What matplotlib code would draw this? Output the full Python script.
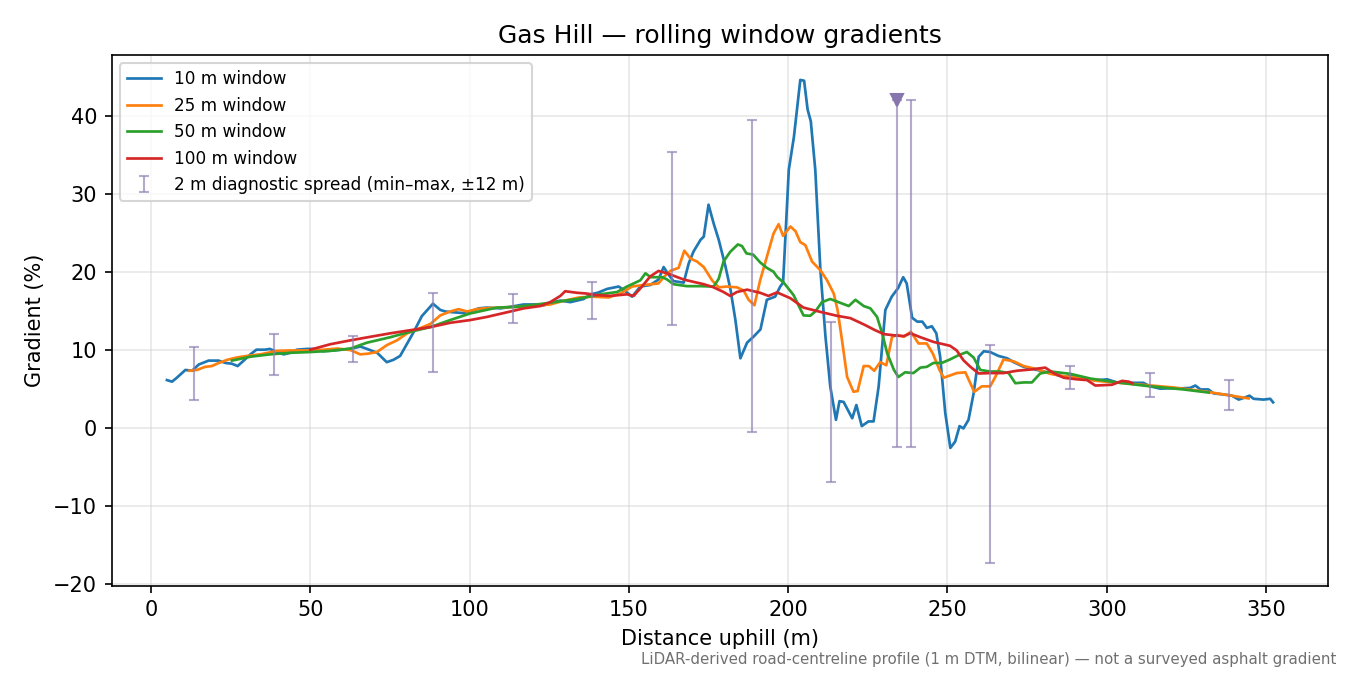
import matplotlib
matplotlib.use('Agg')
import matplotlib.pyplot as plt
import numpy as np

# ---- 10 m window ----
w10_x = [5.0, 6.6, 8.1, 10.8, 12.9, 15.0, 18.1, 21.2, 23.4, 25.4, 27.2, 29.1, 31.2, 33.1, 35.8,
         37.3, 39.0, 41.6, 43.7, 45.8, 49.0, 51.1, 54.0, 57.3, 62.6, 65.7, 67.8, 71.0, 74.0, 76.1,
         78.2, 80.4, 82.5, 85.0, 88.5, 90.8, 92.4, 94.9, 98.1, 100.1, 102.9, 105.4, 109.7, 112.9,
         116.9, 120.1, 123.3, 125.3, 128.5, 131.6, 133.7, 135.8, 137.9, 140.2, 143.2, 146.8, 148.9,
         151.0, 153.6, 156.7, 159.3, 160.9, 162.5, 164.0, 167.2, 168.8, 170.3, 172.5, 173.5, 175.0,
         176.6, 178.2, 180.3, 181.9, 183.4, 185.0, 187.1, 189.2, 191.3, 193.3, 195.9, 197.5, 198.4,
         200.2, 201.8, 203.8, 205.0, 206.1, 207.1, 208.5, 210.1, 211.7, 213.2, 215.0, 216.1, 217.4,
         220.1, 221.4, 223.1, 225.2, 226.8, 228.4, 230.5, 232.5, 234.5, 236.1, 237.2, 238.9, 240.5,
         242.1, 243.5, 245.1, 246.5, 247.7, 249.3, 250.9, 252.4, 253.8, 255.0, 256.6, 258.2, 259.8,
         261.4, 263.4, 266.0, 268.7, 270.8, 273.9, 278.1, 282.3, 286.5, 288.6, 292.7, 296.0, 299.0,
         300.1, 303.2, 308.5, 311.5, 313.6, 316.8, 319.9, 324.1, 326.2, 327.8, 329.4, 331.9, 333.5,
         337.7, 339.3, 341.4, 342.9, 344.8, 346.1, 349.2, 351.3, 352.2]
w10_y = [6.1, 5.9, 6.4, 7.4, 7.3, 8.1, 8.6, 8.6, 8.3, 8.2, 7.9, 8.6, 9.4, 10.0, 10.0,
         10.1, 9.8, 9.4, 9.6, 10.0, 10.1, 10.1, 9.8, 9.9, 10.1, 10.4, 10.1, 9.6, 8.4, 8.7,
         9.2, 10.8, 12.3, 14.3, 15.9, 15.1, 14.9, 14.8, 14.7, 14.9, 15.3, 15.4, 15.3, 15.5,
         15.8, 15.8, 15.7, 16.0, 16.3, 16.1, 16.3, 16.5, 17.1, 17.3, 17.8, 18.1, 17.5,
         16.8, 18.1, 18.3, 19.0, 20.6, 19.6, 18.8, 18.6, 21.1, 22.6, 24.1, 24.5, 28.6,
         26.2, 24.1, 20.7, 17.7, 13.9, 8.9, 10.9, 11.7, 12.6, 16.4, 16.8, 18.1, 18.6,
         33.1, 37.3, 44.6, 44.5, 40.8, 39.3, 33.1, 20.3, 11.7, 5.3, 1.0, 3.4, 3.3,
         1.2, 2.9, 0.2, 0.8, 0.8, 5.3, 15.1, 16.8, 17.9, 19.3, 18.5, 14.1, 13.6,
         13.6, 12.8, 13.0, 12.1, 9.1, 1.9, -2.6, -1.8, 0.2, -0.1, 1.0, 4.4, 9.1,
         9.8, 9.7, 9.2, 8.9, 8.4, 7.8, 7.4, 7.0, 6.5, 6.6, 6.4, 6.1, 6.15,
         6.2, 5.8, 5.75, 5.75, 5.3, 5.0, 5.05, 5.05, 5.1, 5.4, 4.9, 4.9, 4.4,
         4.2, 4.1, 3.6, 3.8, 4.1, 3.7, 3.6, 3.7, 3.25]

# ---- 25 m window ----
w25_x = [12.1, 14.4, 17.0, 19.1, 20.7, 23.9, 27.0, 30.1, 34.3, 39.5, 43.7, 49.0, 54.2, 58.4,
         62.6, 65.7, 68.3, 70.9, 74.1, 77.2, 80.4, 83.5, 87.7, 90.8, 93.9, 96.6, 99.2, 102.3,
         104.4, 109.0, 114.9, 120.0, 125.3, 128.8, 134.4, 138.6, 143.6, 147.3, 151.0, 154.6,
         159.3, 160.9, 163.0, 165.6, 167.4, 169.3, 171.4, 173.5, 176.1, 178.2, 180.8, 183.9,
         186.0, 187.6, 189.4, 191.2, 193.3, 195.4, 197.0, 198.4, 200.7, 202.3, 203.8, 205.4,
         207.5, 210.1, 212.2, 214.3, 215.5, 216.9, 218.5, 220.5, 221.8, 223.7, 225.3, 227.0,
         228.9, 230.8, 232.6, 234.2, 236.3, 238.5, 240.9, 243.5, 245.4, 247.5, 248.8, 252.9,
         255.6, 258.4, 260.8, 263.4, 265.0, 267.6, 270.8, 273.9, 278.1, 282.3, 286.5, 292.7,
         296.8, 308.4, 321.0, 331.4, 337.7, 344.5]
w25_y = [7.3, 7.4, 7.8, 7.9, 8.2, 8.7, 9.0, 9.2, 9.4, 9.85, 9.9, 9.9, 10.0, 10.15,
         9.95, 9.4, 9.5, 9.7, 10.6, 11.2, 12.1, 12.6, 13.3, 14.4, 14.9, 15.2, 14.9, 15.2,
         15.3, 15.4, 15.5, 15.6, 15.8, 16.2, 16.7, 16.8, 16.7, 17.2, 18.1, 18.3,
         18.5, 19.3, 20.1, 20.5, 22.7, 21.7, 21.3, 20.6, 18.9, 18.0, 18.1, 18.0,
         17.6, 16.4, 15.7, 18.9, 21.9, 24.9, 26.1, 24.6, 25.8, 25.2, 23.8, 23.4,
         21.3, 20.2, 18.9, 17.2, 15.1, 11.2, 6.5, 4.6, 4.7, 7.9, 7.9, 7.3,
         8.4, 8.0, 11.65, 11.9, 11.65, 12.3, 10.8, 10.8, 9.5, 7.4, 6.4, 7.0,
         7.1, 4.6, 5.3, 5.3, 6.5, 8.75, 8.5, 7.9, 7.5, 6.9, 6.6, 6.3,
         6.0, 5.6, 5.15, 4.6, 4.2, 3.75]

# ---- 50 m window ----
w50_x = [25.4, 31.2, 37.4, 43.7, 50.0, 56.3, 62.6, 67.8, 75.1, 81.4, 87.7, 93.9, 100.2, 108.6,
         114.9, 121.2, 127.5, 133.7, 141.0, 146.3, 149.4, 153.6, 155.2, 156.8, 160.5, 162.0,
         164.0, 168.2, 172.4, 176.6, 178.2, 179.7, 181.8, 184.2, 185.5, 186.9, 189.0, 191.2,
         193.3, 195.4, 196.5, 198.6, 201.7, 204.8, 206.9, 208.5, 210.6, 213.2, 215.8, 219.0,
         221.1, 223.7, 225.8, 227.9, 229.5, 231.1, 233.2, 234.6, 236.7, 239.3, 241.5, 243.5,
         245.6, 248.2, 250.8, 253.5, 256.1, 258.2, 260.3, 263.4, 266.5, 269.2, 271.3, 273.9,
         276.5, 279.1, 282.3, 288.6, 294.8, 303.2, 313.6, 324.1, 332.0]
w50_y = [8.6, 9.1, 9.4, 9.6, 9.7, 9.85, 10.15, 10.9, 11.6, 12.3, 12.9, 13.8, 14.65, 15.4,
         15.5, 15.8, 16.15, 16.5, 17.1, 17.4, 18.1, 18.9, 19.8, 19.3, 19.3, 19.0,
         18.4, 18.15, 18.15, 18.1, 19.1, 21.3, 22.55, 23.5, 23.3, 22.35, 22.2, 21.2,
         20.5, 20.0, 19.35, 18.6, 17.0, 14.4, 14.35, 14.9, 16.1, 16.5, 16.1, 15.6,
         16.4, 15.6, 15.3, 14.2, 12.1, 9.5, 7.4, 6.5, 7.1, 7.0, 7.7, 7.8,
         8.3, 8.3, 8.75, 9.3, 9.7, 9.0, 7.4, 7.2, 7.2, 7.0, 5.7, 5.8,
         5.8, 6.95, 7.2, 6.9, 6.3, 5.8, 5.3, 4.9, 4.5]

# ---- 100 m window ----
w100_x = [50.0, 56.3, 62.6, 68.8, 75.1, 81.4, 87.7, 93.9, 100.2, 105.4, 110.7, 117.0, 122.2,
          125.3, 128.5, 130.0, 133.7, 136.8, 139.5, 144.1, 149.4, 151.5, 154.1, 156.7, 159.3,
          162.0, 164.6, 167.2, 170.3, 173.5, 176.6, 179.7, 181.8, 183.9, 187.1, 191.2, 193.8,
          196.5, 200.7, 204.8, 210.1, 215.3, 219.5, 223.7, 227.3, 230.0, 234.2, 236.3, 238.4,
          241.5, 245.6, 250.8, 252.9, 255.0, 257.2, 259.8, 263.4, 267.6, 271.8, 276.0, 280.7,
          283.3, 286.5, 290.6, 293.8, 296.4, 299.0, 301.6, 304.8, 306.9, 308.0]
w100_y = [10.0, 10.7, 11.2, 11.65, 12.1, 12.5, 12.9, 13.45, 13.8, 14.2, 14.7, 15.3, 15.6,
          16.1, 16.9, 17.5, 17.3, 17.2, 17.0, 16.9, 17.1, 16.9, 18.1, 19.4, 20.1,
          19.8, 19.4, 19.0, 18.7, 18.4, 18.0, 17.4, 16.9, 17.4, 17.7, 17.3, 16.9,
          17.35, 16.6, 15.4, 14.85, 14.35, 14.05, 13.25, 12.5, 12.0, 11.8, 11.75, 12.1,
          11.6, 11.0, 10.5, 9.9, 8.65, 7.8, 6.95, 7.0, 7.0, 7.3, 7.45, 7.7,
          7.0, 6.4, 6.2, 6.1, 5.4, 5.45, 5.5, 6.0, 5.9, 5.7]

# ---- 2 m diagnostic spread (min-max, +-12 m) ----
spread_x = [13.5, 38.5, 63.5, 88.5, 113.5, 138.5, 163.5, 188.5, 213.5, 234.0, 238.5, 263.5,
            288.5, 313.5, 338.5]
spread_lo = [3.6, 6.7, 8.4, 7.2, 13.4, 13.9, 13.2, -0.6, -6.95, -2.45, -2.45, -17.35,
             5.0, 3.9, 2.3]
spread_hi = [10.3, 12.0, 11.7, 17.3, 17.1, 18.7, 35.4, 39.4, 13.6, 42.0, 42.0, 10.6,
             7.9, 7.0, 6.1]
steep_x = [234.0]
steep_y = [42.0]

fig, ax = plt.subplots(figsize=(9, 4.5), dpi=150)
fig.subplots_adjust(left=0.0827, right=0.9835, top=0.9185, bottom=0.132)

ax.plot(w10_x, w10_y, color='#1f77b4', lw=1.3, label='10 m window')
ax.plot(w25_x, w25_y, color='#ff7f0e', lw=1.3, label='25 m window')
ax.plot(w50_x, w50_y, color='#2ca02c', lw=1.3, label='50 m window')
ax.plot(w100_x, w100_y, color='#d62728', lw=1.3, label='100 m window')

lo = np.array(spread_lo)
hi = np.array(spread_hi)
mid = (lo + hi) / 2
ax.errorbar(spread_x, mid, yerr=[mid - lo, hi - mid], fmt='none', ecolor='#8c7db5',
            alpha=0.65, elinewidth=1.0, capsize=2.5, capthick=1.0,
            label='2 m diagnostic spread (min\u2013max, \u00b112 m)')
ax.plot(steep_x, steep_y, linestyle='none', marker='v', markersize=6, color='#8676ad')

ax.set_xlim(-12.35, 369.35)
ax.set_ylim(-20.3, 47.8)
ax.grid(True, color='#cccccc', alpha=0.45, lw=0.8)
ax.set_xlabel('Distance uphill (m)')
ax.set_ylabel('Gradient (%)')
ax.set_title('Gas Hill \u2014 rolling window gradients', fontsize=12)
ax.legend(loc='upper left', fontsize=8.1)

fig.text(0.99, 0.012, 'LiDAR-derived road-centreline profile (1 m DTM, bilinear) \u2014 not a surveyed asphalt gradient',
         ha='right', va='bottom', fontsize=7.2, color='#707070')

fig.savefig('out.png', dpi=150, facecolor='white')
plt.close()
